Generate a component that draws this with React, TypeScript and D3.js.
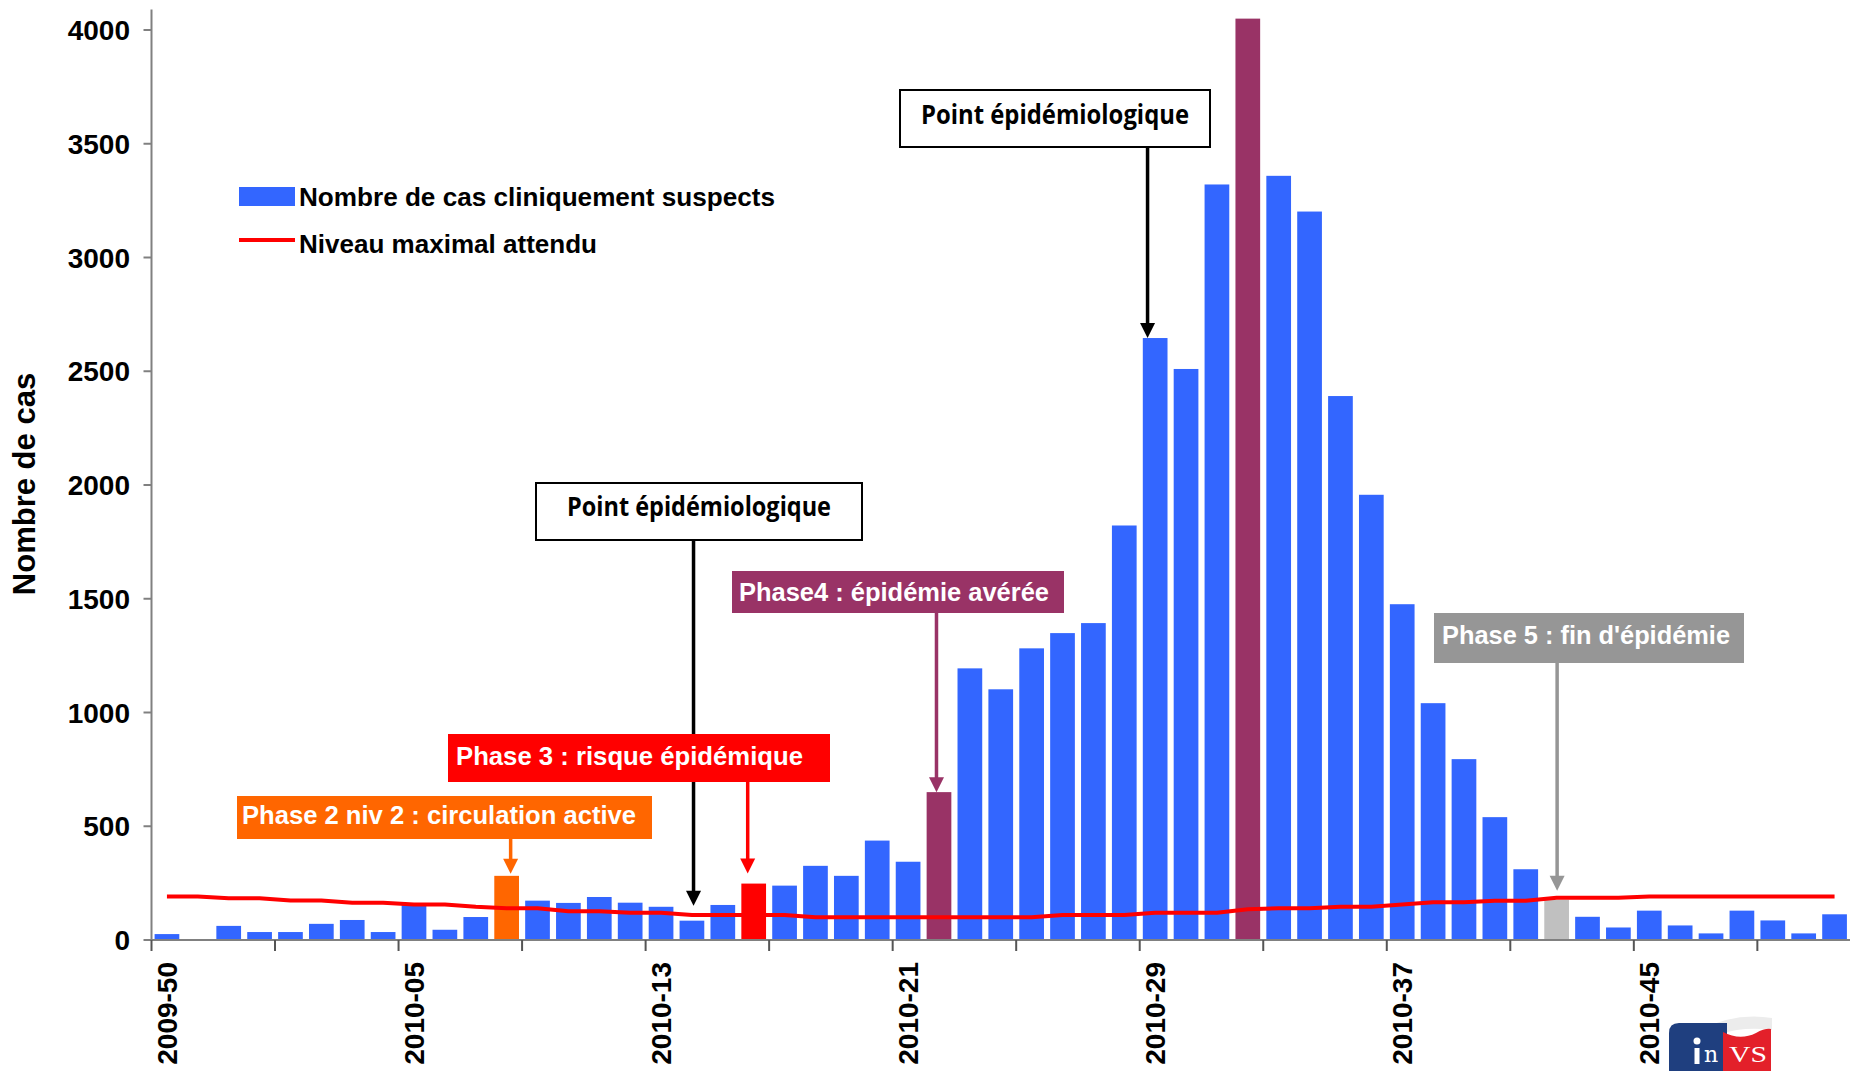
import React from "react";
import * as d3 from "d3";

// ---------- data ----------
const weeks = [
  "2009-50", "2009-51", "2009-52", "2009-53",
  "2010-01", "2010-02", "2010-03", "2010-04", "2010-05", "2010-06", "2010-07", "2010-08",
  "2010-09", "2010-10", "2010-11", "2010-12", "2010-13", "2010-14", "2010-15", "2010-16",
  "2010-17", "2010-18", "2010-19", "2010-20", "2010-21", "2010-22", "2010-23", "2010-24",
  "2010-25", "2010-26", "2010-27", "2010-28", "2010-29", "2010-30", "2010-31", "2010-32",
  "2010-33", "2010-34", "2010-35", "2010-36", "2010-37", "2010-38", "2010-39", "2010-40",
  "2010-41", "2010-42", "2010-43", "2010-44", "2010-45", "2010-46", "2010-47", "2010-48",
  "2010-49", "2010-50", "2010-51",
];

const cases = [
  26, 0, 62, 35, 35, 71, 88, 35, 154, 45, 101, 282, 173, 163, 189, 164, 146, 85, 154, 248,
  239, 326, 282, 437, 344, 650, 1194, 1102, 1282, 1349, 1393, 1822, 2646, 2510, 3321, 4050,
  3359, 3202, 2391, 1957, 1476, 1041, 795, 540, 311, 177, 102, 55, 129, 64, 29, 129, 86, 29, 113,
];

const threshold = [
  191, 191, 184, 184, 174, 174, 164, 164, 156, 156, 146, 140, 140, 126, 126, 120, 120, 110, 110, 110,
  110, 100, 100, 100, 100, 100, 100, 100, 100, 110, 110, 110, 120, 120, 120, 135, 140, 140, 146, 146,
  156, 166, 166, 173, 173, 186, 186, 186, 191, 191, 191, 191, 191, 191, 191,
];

const yTicks = [0, 500, 1000, 1500, 2000, 2500, 3000, 3500, 4000];
const xLabelWeeks = ["2009-50", "2010-05", "2010-13", "2010-21", "2010-29", "2010-37", "2010-45"];
const highlightWeeks = ["2010-08", "2010-16", "2010-22", "2010-32", "2010-42"];
const highlightColors = ["#FF6600", "#FF0000", "#993366", "#993366", "#C0C0C0"];
const legendLabels = ["Nombre de cas cliniquement suspects", "Niveau maximal attendu"];
const yTitle = "Nombre de cas";

const phaseTexts = [
  "Phase 2 niv 2 : circulation active",
  "Phase 3 : risque épidémique",
  "Phase4 : épidémie avérée",
  "Phase 5 : fin d'épidémie",
];
const phaseWeeks = ["2010-08", "2010-16", "2010-22", "2010-42"];
const phaseColors = ["#FF6600", "#FF0000", "#993366", "#969696"];
const pointText = "Point épidémiologique";
const pointWeeks = ["2010-14", "2010-29"];

// ---------- layout ----------
const W = 1856;
const H = 1071;
const LEFT = 151.5;
const RIGHT = 1850;
const BASE = 940;
const TOP4000 = 30;
const FONT = "'Liberation Sans', Arial, Helvetica, sans-serif";

export default function App() {
  const x = d3.scaleBand<string>().domain(weeks).range([LEFT, RIGHT]).paddingInner(0.2).paddingOuter(0.1);
  const y = d3.scaleLinear().domain([0, 4000]).range([BASE, TOP4000]);
  const step = x.step();
  const bw = x.bandwidth();
  const cx = (w: string) => (x(w) as number) + bw / 2;
  const boundary = (w: string) => (x(w) as number) - (step - bw) / 2;

  const line = d3
    .line<number>()
    .x((_, i) => cx(weeks[i]))
    .y((d) => y(d));

  const colorOf = (w: string) => {
    const k = highlightWeeks.indexOf(w);
    return k >= 0 ? highlightColors[k] : "#3366FF";
  };

  const tickWeeks = weeks.filter((_, i) => i % 4 === 0);
  const valOf = (w: string) => cases[weeks.indexOf(w)];

  const phaseBoxes = [
    { x: 237, y: 796, w: 415, h: 43, tx: 242, ty: 824, tl: 394, dx: 4, gap: 2 },
    { x: 448, y: 734, w: 382, h: 48, tx: 456, ty: 765, tl: 347, dx: -6, gap: 10 },
    { x: 732, y: 571, w: 332, h: 42, tx: 739, ty: 600.5, tl: 310, dx: -2.5, gap: 0 },
    { x: 1434, y: 613, w: 310, h: 50, tx: 1442, ty: 643.5, tl: 288, dx: 0.5, gap: 9 },
  ];
  const pointBoxes = [
    { x: 536, y: 483, w: 326, h: 57, ty: 516, tl: 264, dx: 1.6, gap: 15 },
    { x: 900, y: 90, w: 310, h: 57, ty: 124, tl: 268, dx: -7.6, gap: 0 },
  ];

  const arrow = (ax: number, y1: number, tip: number, color: string, sw: number, key: string) => (
    <g key={key}>
      <line x1={ax} x2={ax} y1={y1} y2={tip - 12} stroke={color} strokeWidth={sw} />
      <polygon points={`${ax - 7.5},${tip - 15} ${ax + 7.5},${tip - 15} ${ax},${tip}`} fill={color} />
    </g>
  );

  return (
    <svg
      width={W}
      height={H}
      viewBox={`0 0 ${W} ${H}`}
      style={{ position: "absolute", left: 0, top: 0, background: "#fff" }}
    >
      <rect x={0} y={0} width={W} height={H} fill="#fff" />

      {weeks.map((w, i) =>
        cases[i] > 0 ? (
          <rect
            key={w}
            x={x(w)}
            y={y(cases[i])}
            width={bw}
            height={BASE - y(cases[i])}
            fill={colorOf(w)}
          />
        ) : null
      )}

      <path d={line(threshold) || ""} fill="none" stroke="#FF0000" strokeWidth={4} strokeLinejoin="round" />

      <line x1={LEFT} x2={LEFT} y1={BASE} y2={y(4090)} stroke="#808080" strokeWidth={2} />
      <line x1={LEFT} x2={RIGHT} y1={BASE} y2={BASE} stroke="#808080" strokeWidth={2} />
      {yTicks.map((t) => (
        <g key={t}>
          <line x1={LEFT - 8} x2={LEFT} y1={y(t)} y2={y(t)} stroke="#808080" strokeWidth={2} />
          <text
            x={130}
            y={y(t)}
            dy="0.36em"
            textAnchor="end"
            fontFamily={FONT}
            fontWeight="bold"
            fontSize={28}
            fill="#000"
          >
            {t}
          </text>
        </g>
      ))}
      {tickWeeks.map((w) => (
        <line
          key={w}
          x1={boundary(w)}
          x2={boundary(w)}
          y1={BASE}
          y2={BASE + 11}
          stroke="#555"
          strokeWidth={2}
        />
      ))}
      {xLabelWeeks.map((w) => (
        <text
          key={w}
          transform={`translate(${cx(w)},962) rotate(-90)`}
          dy="0.36em"
          textAnchor="end"
          fontFamily={FONT}
          fontWeight="bold"
          fontSize={28}
          fill="#000"
        >
          {w}
        </text>
      ))}

      <text
        transform="translate(35,484) rotate(-90)"
        textAnchor="middle"
        fontFamily={FONT}
        fontWeight="bold"
        fontSize={31}
        fill="#000"
      >
        {yTitle}
      </text>

      <rect x={239} y={187} width={56} height={19} fill="#3366FF" />
      <text x={299} y={206} fontFamily={FONT} fontWeight="bold" fontSize={25.5} textLength={476} lengthAdjust="spacingAndGlyphs">
        {legendLabels[0]}
      </text>
      <line x1={239} x2={295} y1={240} y2={240} stroke="#FF0000" strokeWidth={4} />
      <text x={299} y={253} fontFamily={FONT} fontWeight="bold" fontSize={25.5} textLength={298} lengthAdjust="spacingAndGlyphs">
        {legendLabels[1]}
      </text>

      {pointBoxes.map((b, i) => {
        const w = pointWeeks[i];
        const ax = cx(w) + b.dx;
        const tip = y(valOf(w)) - b.gap;
        return (
          <g key={"pt" + i}>
            <rect x={b.x} y={b.y} width={b.w} height={b.h} fill="#fff" stroke="#000" strokeWidth={2} />
            <text
              x={b.x + b.w / 2}
              y={b.ty}
              textAnchor="middle"
              fontFamily="'Open Sans', 'Noto Sans', sans-serif"
              fontWeight={700}
              fontSize={26}
              textLength={b.tl}
              lengthAdjust="spacingAndGlyphs"
              fill="#000"
            >
              {pointText}
            </text>
            {arrow(ax, b.y + b.h, tip, "#000", 3.5, "a" + i)}
          </g>
        );
      })}

      {phaseBoxes.map((b, i) => {
        const w = phaseWeeks[i];
        const ax = cx(w) + b.dx;
        const tip = y(valOf(w)) - b.gap;
        return (
          <g key={"ph" + i}>
            <rect x={b.x} y={b.y} width={b.w} height={b.h} fill={phaseColors[i]} />
            <text
              x={b.tx}
              y={b.ty}
              fontFamily={FONT}
              fontWeight="bold"
              fontSize={25.5}
              textLength={b.tl}
              lengthAdjust="spacingAndGlyphs"
              fill="#fff"
            >
              {phaseTexts[i]}
            </text>
            {arrow(ax, b.y + b.h, tip, phaseColors[i], 3.5, "p" + i)}
          </g>
        );
      })}

      {/* InVS logo */}
      <g>
        <path d="M1700,1030 Q1735,1012 1772,1018 L1772,1030 Q1745,1026 1720,1034 Z" fill="#ececec" />
        <path d="M1669,1071 L1669,1033 Q1669,1023 1679,1023 L1727,1023 L1727,1071 Z" fill="#1f3f7f" />
        <path d="M1723,1071 L1723,1032 Q1740,1041 1756,1033 Q1765,1028 1771,1029 L1771,1071 Z" fill="#e3202a" />
        <circle cx={1697} cy={1041} r={3.5} fill="#fff" />
        <rect x={1694.5} y={1048} width={5} height={16} fill="#fff" />
        <text x={1704} y={1062} fontFamily="'DejaVu Serif', 'Liberation Serif', serif" fontSize={22} fill="#fff">
          n
        </text>
        <text x={1729} y={1062} fontFamily="'Liberation Serif', serif" fontSize={24} fill="#fff" textLength={38} lengthAdjust="spacingAndGlyphs">
          VS
        </text>
      </g>
    </svg>
  );
}
